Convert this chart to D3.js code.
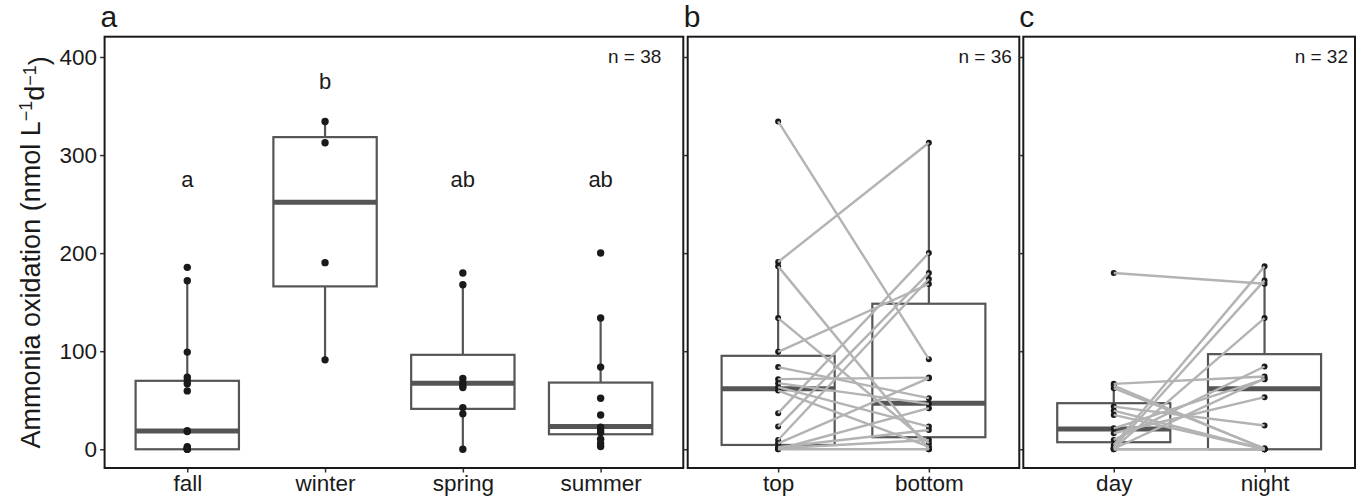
<!DOCTYPE html>
<html>
<head>
<meta charset="utf-8">
<script src="https://cdn.jsdelivr.net/npm/d3@7"></script>
<style>
  body { margin: 0; background: #fff; }
  text { font-family: "Liberation Sans", Arial, Helvetica, sans-serif; fill: #1a1a1a; }
</style>
</head>
<body>
<div id="vis"></div>
<script>
// panel a: seasons
const seasons = ["fall", "winter", "spring", "summer"]
const seasonPoints = [
  [185.5, 171.9, 99.1, 73.5, 70, 66.7, 59.5, 19.0, 18, 2.7, 1, 0.5, 0, 0],
  [334.3, 312.6, 190.3, 91.2],
  [179.8, 167.8, 72.1, 68.0, 65, 62.9, 42.5, 36.1, 0],
  [200.2, 133.8, 83.8, 52.1, 35.0, 22.5, 19.7, 17, 10.2, 6, 2.7]
]
// box stats: [whiskerLow, q1, median, q3, whiskerHigh]
const seasonBoxes = [
  [0, 0, 18.7, 69.8, 171.9],
  [91.2, 166.1, 251.9, 318.3, 334.3],
  [0, 41.2, 67.4, 96.3, 167.8],
  [2.7, 15.3, 23.1, 68.0, 133.8]
]
const seasonLetters = ["a", "b", "ab", "ab"]
const letterY = [275, 375, 275, 275]

// panel b: depth, paired samples
const depths = ["top", "bottom"]
const topVals =    [334.3, 191, 186.5, 133.8, 99.4, 83.8, 71.5, 67.4, 63.3, 59.9, 36.8, 23.1, 9.5, 6.1, 2, 0, 0, 1]
const bottomVals = [91.9, 312.6, 0, 6.1, 168.5, 52.1, 73.1, 46.3, 23.1, 2.7, 200.2, 179.8, 173.6, 72.5, 19.7, 0, 41.9, 9.5]
const depthBoxes = [
  [0, 4.4, 61.6, 95.3, 191],
  [0, 12.3, 47.0, 148.4, 312.6]
]

// panel c: time of day, paired samples
const times = ["day", "night"]
const dayVals =   [179.8, 66.7, 65, 62.3, 43.5, 39.4, 35, 21.4, 16.3, 9.5, 4.4, 2, 1, 0, 0, 0.5]
const nightVals = [168.8, 74.2, 0, 1, 24.2, 0, 0, 71.5, 53.1, 84.4, 186.5, 172.2, 133.8, 0, 0, 72]
const timeBoxes = [
  [0, 7.2, 20.7, 47, 66.7],
  [0, 0, 61.6, 97, 186.5]
]

const yTicks = [0, 100, 200, 300, 400]

const W = 1362, H = 497
const plotTop = 36.7, plotBottom = 468

const svg = d3.select("#vis").append("svg").attr("width", W).attr("height", H)

const y = d3.scaleLinear().domain([-19.1, 420.7]).range([plotBottom, plotTop])

const boxCol = "#555555", lineCol = "#b3b3b3", ptCol = "#1a1a1a"

function drawPanel(opts) {
  const x = d3.scalePoint().domain(opts.cats).range([opts.x0, opts.x1]).padding(0.6)
  const bw = x.step() * 0.75
  const g = svg.append("g")

  // axes
  const ya = d3.axisLeft(y).tickValues(yTicks).tickSize(4.5).tickPadding(3)
  if (!opts.yLabels) ya.tickFormat("")
  const yg = g.append("g").attr("transform", `translate(${opts.x0},0)`).call(ya)
  const xg = g.append("g").attr("transform", `translate(0,${plotBottom})`)
    .call(d3.axisBottom(x).tickSize(4.5).tickPadding(3))
  for (const ag of [yg, xg]) {
    ag.select(".domain").remove()
    ag.selectAll(".tick line").attr("stroke", "#333").attr("stroke-width", 1.5)
    ag.selectAll(".tick text").style("font-size", "22.5px").attr("fill", "#1a1a1a")
  }

  // boxes
  opts.cats.forEach((c, i) => {
    const b = opts.boxes[i], cx = x(c)
    g.append("line").attr("x1", cx).attr("x2", cx).attr("y1", y(b[3])).attr("y2", y(b[4]))
      .attr("stroke", boxCol).attr("stroke-width", 2.2)
    g.append("line").attr("x1", cx).attr("x2", cx).attr("y1", y(b[0])).attr("y2", y(b[1]))
      .attr("stroke", boxCol).attr("stroke-width", 2.2)
    g.append("rect").attr("x", cx - bw / 2).attr("width", bw)
      .attr("y", y(b[3])).attr("height", y(b[1]) - y(b[3]))
      .attr("fill", "#fff").attr("stroke", boxCol).attr("stroke-width", 2.2)
    g.append("line").attr("x1", cx - bw / 2).attr("x2", cx + bw / 2)
      .attr("y1", y(b[2])).attr("y2", y(b[2]))
      .attr("stroke", boxCol).attr("stroke-width", 5)
  })

  if (opts.points) {
    opts.cats.forEach((c, i) => {
      g.selectAll(null).data(opts.points[i]).enter().append("circle")
        .attr("cx", x(c)).attr("cy", d => y(d)).attr("r", 3.7).attr("fill", ptCol)
    })
  }

  if (opts.pairs) {
    const [a, b] = opts.pairs
    g.selectAll(null).data(a.concat(b).map((v, i) => ({ v, c: i < a.length ? 0 : 1 })))
      .enter().append("circle")
      .attr("cx", d => x(opts.cats[d.c])).attr("cy", d => y(d.v)).attr("r", 3).attr("fill", ptCol)
    g.selectAll(null).data(a.map((v, i) => [v, b[i]])).enter().append("line")
      .attr("x1", x(opts.cats[0])).attr("x2", x(opts.cats[1]))
      .attr("y1", d => y(d[0])).attr("y2", d => y(d[1]))
      .attr("stroke", lineCol).attr("stroke-width", 2.4)
  }

  if (opts.letters) {
    g.selectAll(null).data(opts.letters).enter().append("text")
      .attr("x", (d, i) => x(opts.cats[i])).attr("y", (d, i) => y(letterY[i]))
      .attr("text-anchor", "middle").attr("dy", "0.35em")
      .style("font-size", "22px").text(d => d)
  }

  // n label
  g.append("text").attr("x", opts.x1 - opts.nPad).attr("y", 63)
    .attr("text-anchor", "end").style("font-size", "19px").text("n = " + opts.n)

  // frame
  g.append("rect").attr("x", opts.x0).attr("y", plotTop)
    .attr("width", opts.x1 - opts.x0).attr("height", plotBottom - plotTop)
    .attr("fill", "none").attr("stroke", "#1a1a1a").attr("stroke-width", 2)

  // panel tag
  g.append("text").attr("x", opts.x0 - 4).attr("y", 27)
    .style("font-size", "30px").text(opts.tag)
}

drawPanel({ cats: seasons, x0: 104.6, x1: 683.3, boxes: seasonBoxes, points: seasonPoints,
  letters: seasonLetters, yLabels: true, n: 38, nPad: 22, tag: "a" })
drawPanel({ cats: depths, x0: 687.7, x1: 1019.3, boxes: depthBoxes, pairs: [topVals, bottomVals],
  yLabels: false, n: 36, nPad: 7.5, tag: "b" })
drawPanel({ cats: times, x0: 1023.3, x1: 1355, boxes: timeBoxes, pairs: [dayVals, nightVals],
  yLabels: false, n: 32, nPad: 7, tag: "c" })

// y axis title
const title = svg.append("text")
  .attr("transform", `translate(40,${(plotTop + plotBottom) / 2}) rotate(-90)`)
  .attr("text-anchor", "middle").style("font-size", "27px")
title.append("tspan").text("Ammonia oxidation (nmol L")
title.append("tspan").attr("dy", "-0.45em").style("font-size", "18px").text("\u22121")
title.append("tspan").attr("dy", "0.45em").text("d")
title.append("tspan").attr("dy", "-0.45em").style("font-size", "18px").text("\u22121")
title.append("tspan").attr("dy", "0.45em").text(")")
</script>
</body>
</html>
